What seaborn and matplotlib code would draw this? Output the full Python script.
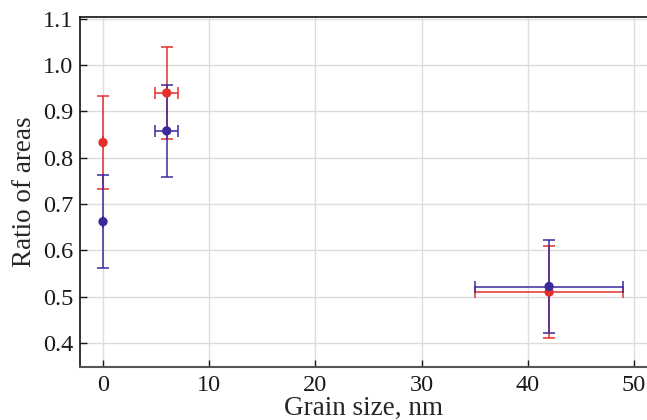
import matplotlib
matplotlib.use("Agg")
import matplotlib.pyplot as plt
import seaborn as sns
import pandas as pd

# Measured ratios for two series versus grain size
grain_size = [0, 6, 42]
grain_err = [0, 1.1, 7]

ratio_red = [0.833, 0.940, 0.510]
ratio_red_err = [0.1, 0.1, 0.1]

ratio_blue = [0.662, 0.858, 0.522]
ratio_blue_err = [0.1, 0.1, 0.1]

x_ticks = [0, 10, 20, 30, 40, 50]
y_ticks = [0.4, 0.5, 0.6, 0.7, 0.8, 0.9, 1.0, 1.1]

RED = "#e5302a"
BLUE = "#3b2a9c"

sns.set_style("whitegrid")
plt.rcParams["font.family"] = ["Liberation Serif", "DejaVu Serif"]

fig = plt.figure(figsize=(6.47, 4.20), dpi=100)
ax = fig.add_axes([0.1236, 0.126, 0.8764, 0.8335])

df = pd.DataFrame({
    "size": grain_size * 2,
    "ratio": ratio_red + ratio_blue,
    "series": ["red"] * 3 + ["blue"] * 3,
})

for ys, yerr, col in [(ratio_red, ratio_red_err, RED), (ratio_blue, ratio_blue_err, BLUE)]:
    ax.errorbar(grain_size, ys, yerr=yerr, xerr=grain_err, fmt="none",
                ecolor=col, elinewidth=1.1, capsize=4, capthick=1.1, zorder=3)

sns.scatterplot(data=df, x="size", y="ratio", hue="series",
                palette={"red": RED, "blue": BLUE}, s=45, edgecolor="none",
                legend=False, ax=ax, zorder=4)

ax.set_xlim(-2.17, 51.22)
ax.set_ylim(0.348, 1.104)
ax.set_xticks(x_ticks)
ax.set_yticks(y_ticks)
ax.set_yticklabels([f"{v:.1f}" for v in y_ticks])

ax.grid(True, color="#dcdcdc", linewidth=1.0)
ax.tick_params(axis="both", direction="in", length=5, width=1.0,
               labelsize=17.5, colors="#1a1a1a", pad=5)
ax.tick_params(axis="x", pad=6)
ax.tick_params(left=True, bottom=True)

for side in ["left", "top"]:
    ax.spines[side].set_color("#111111")
    ax.spines[side].set_linewidth(1.2)
ax.spines["bottom"].set_color("#555555")
ax.spines["bottom"].set_linewidth(1.5)
ax.spines["right"].set_visible(False)

ax.set_xlabel("Grain size, nm", fontsize=19.5, labelpad=-0.5)
ax.set_ylabel("Ratio of areas", fontsize=19.5, labelpad=4)

fig.savefig("out.png", dpi=100)
